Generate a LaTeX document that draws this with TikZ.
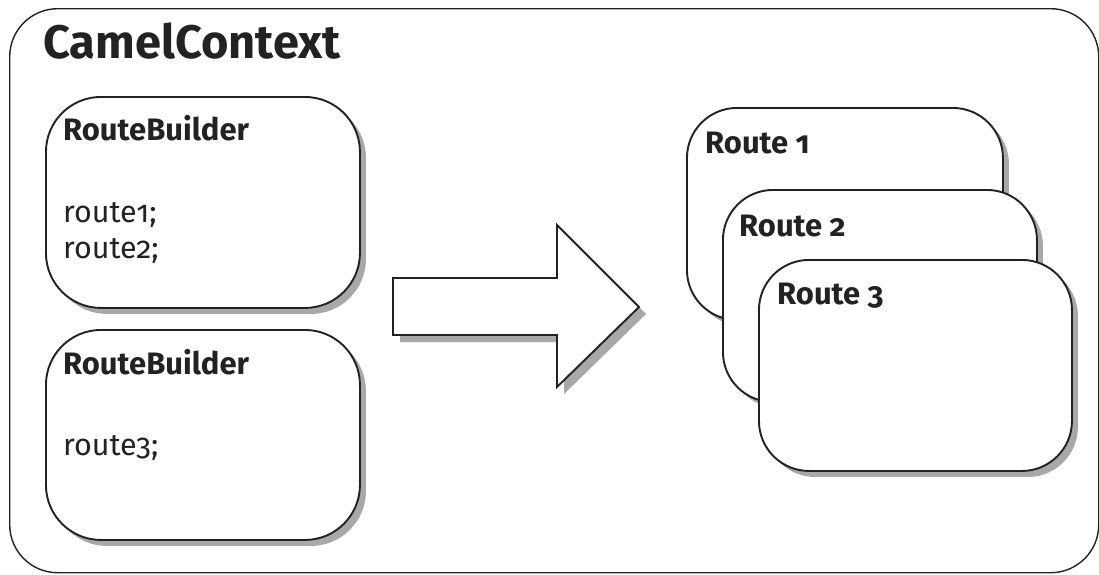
\documentclass[tikz,border=0pt]{standalone}
\usepackage{fontspec}
\setmainfont{Fira Sans}[Numbers=OldStyle]
\usetikzlibrary{shadows}
\definecolor{ink}{HTML}{222222}
\definecolor{shade}{HTML}{A8A8A8}
\tikzset{
  panel/.style={draw=ink, line width=1.9pt, fill=white, rectangle,
    anchor=north west, inner sep=0pt,
    drop shadow={shadow xshift=6pt, shadow yshift=-6pt, fill=shade, opacity=1}},
  builder/.style={panel, rounded corners=55pt},
  routebox/.style={panel, rounded corners=50pt},
  heading/.style={anchor=base west, inner sep=0pt, font=\fontsize{31}{37}\selectfont\bfseries, text=ink},
  codeline/.style={anchor=base west, inner sep=0pt, font=\fontsize{30.5}{36}\selectfont, text=ink},
}
\begin{document}
\begin{tikzpicture}[x=1pt, y=-1pt]
\useasboundingbox (0,0) rectangle (1099,574);

% the context frame
\node[draw=ink, line width=1.4pt, rounded corners=48pt, rectangle, anchor=north west,
      minimum width=1089pt, minimum height=564pt, inner sep=0pt] (ctx) at (9,8) {};
\node[anchor=base west, inner sep=0pt, font=\fontsize{47}{56}\selectfont\bfseries, text=ink]
  (ctxlabel) at (43,58) {CamelContext};

% route builders
\node[builder, minimum width=314pt, minimum height=211pt] (rb1) at (45,96) {};
\node[heading] (rb1title) at (63,140) {RouteBuilder};
\node[codeline] (rb1a) at (63,222) {route1;};
\node[codeline] (rb1b) at (63,258) {route2;};

\node[builder, minimum width=314pt, minimum height=210pt] (rb2) at (45,329) {};
\node[heading] (rb2title) at (63,374) {RouteBuilder};
\node[codeline] (rb2a) at (63,455) {route3;};

% big block arrow
\draw[draw=ink, line width=1.9pt, fill=white, line join=miter,
      drop shadow={shadow xshift=7pt, shadow yshift=-7pt, fill=shade, opacity=1}]
  (393,278) -- (557,278) -- (557,225) -- (639,307) -- (557,387) -- (557,335) -- (393,335) -- cycle;

% stacked routes
\node[routebox, minimum width=316pt, minimum height=212pt] (r1) at (686,107) {};
\node[heading] (r1title) at (705,153) {Route 1};
\node[routebox, minimum width=314pt, minimum height=212pt] (r2) at (722,189) {};
\node[heading] (r2title) at (739,236) {Route 2};
\node[routebox, minimum width=313pt, minimum height=211pt] (r3) at (758,259) {};
\node[heading] (r3title) at (777,304) {Route 3};
\end{tikzpicture}
\end{document}
